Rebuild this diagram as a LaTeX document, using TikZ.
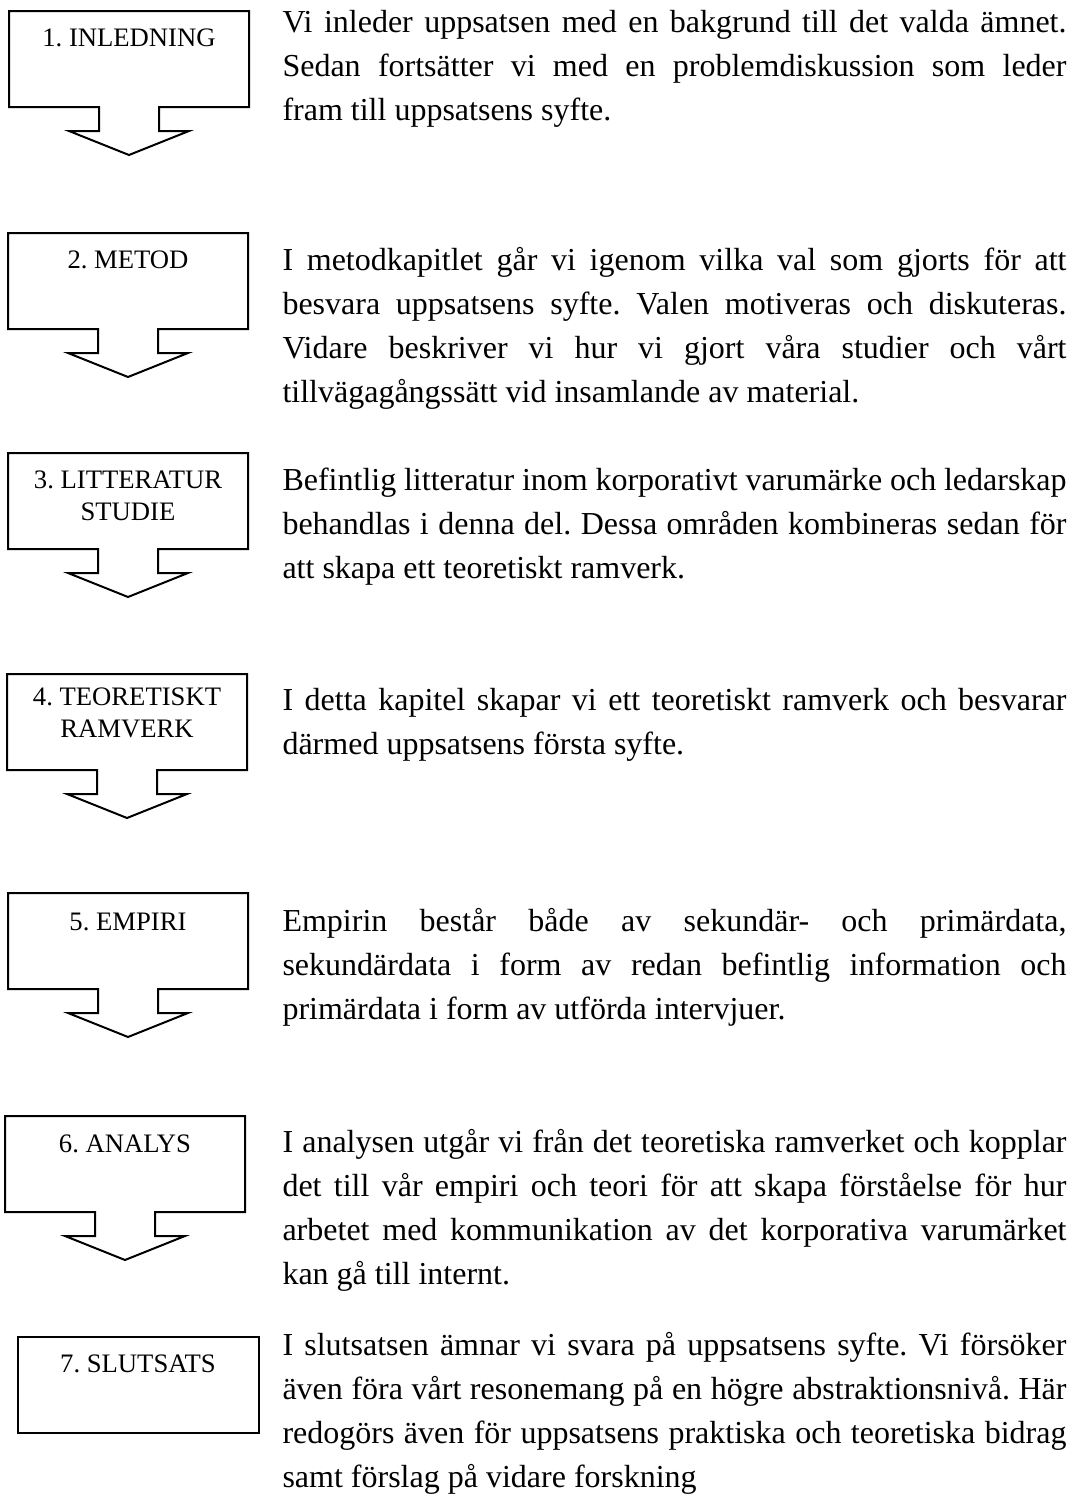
\documentclass[tikz,border=0pt]{standalone}
\usepackage{fontspec}
\setmainfont{Liberation Serif}
\usepackage{tikz}
\frenchspacing

\begin{document}
\begin{tikzpicture}[x=.375pt,y=-.375pt,
    chapbox/.style={draw,line width=.75pt},
    chaplabel/.style={anchor=base,align=center,inner sep=0pt,
      font=\fontsize{10}{12}\selectfont},
    chaptext/.style={anchor=base west,inner sep=0pt,text width=294pt,
      align=justify,font=\fontsize{12}{16.5}\selectfont}]

        \useasboundingbox (0,0) rectangle (1074,1494);

        % boxes with arrows, left x / top y
        \foreach \l/\t in {9/11,8/233,8/453,7/674,8/893,5/1116} {
          \draw[chapbox] (\l,\t) -- ++(240,0) -- ++(0,96) -- ++(-90,0)
            -- ++(0,24) -- ++(30,0) -- ++(-60,24) -- ++(-60,-24)
            -- ++(30,0) -- ++(0,-24) -- ++(-90,0) -- cycle;
        }
        \draw[chapbox] (18,1337) rectangle ++(241,96);

        % base of the last line for two-line labels
        \node[chaplabel] (inledning) at (129,46) {1. INLEDNING};
        \node[chaplabel] (metod) at (128,268) {2. METOD};
        \node[chaplabel] (litteratur) at (128,520) {3. LITTERATUR\\STUDIE};
        \node[chaplabel] (ramverk) at (127,737) {4. TEORETISKT\\RAMVERK};
        \node[chaplabel] (empiri) at (128,930) {5. EMPIRI};
        \node[chaplabel] (analys) at (125,1152) {6. ANALYS};
        \node[chaplabel] (slutsats) at (138,1372) {7. SLUTSATS};

        \node[chaptext] (txtinledning) at (282,32) {Vi inleder uppsatsen med en
          bakgrund till det valda ämnet.\linebreak Sedan fortsätter vi med en
          problemdiskussion som leder\linebreak fram till uppsatsens syfte.};
        \node[chaptext] (txtmetod) at (282,270) {I metodkapitlet går vi igenom
          vilka val som gjorts för att\linebreak besvara uppsatsens syfte. Valen
          motiveras och diskuteras.\linebreak Vidare beskriver vi hur vi gjort
          våra studier och vårt\linebreak tillvägagångssätt vid insamlande av
          material.};
        \node[chaptext] (txtlitteratur) at (282,490) {Befintlig litteratur inom
          korporativt varumärke och ledarskap\linebreak behandlas i denna del.
          Dessa områden kombineras sedan för\linebreak att skapa ett teoretiskt
          ramverk.};
        \node[chaptext] (txtramverk) at (282,710) {I detta kapitel skapar vi ett
          teoretiskt ramverk och besvarar\linebreak därmed uppsatsens första
          syfte.};
        \node[chaptext] (txtempiri) at (282,931) {Empirin består både av
          sekundär- och primärdata,\linebreak sekundärdata i form av redan
          befintlig information och\linebreak primärdata i form av utförda
          intervjuer.};
        \node[chaptext] (txtanalys) at (282,1152) {I analysen utgår vi från det
          teoretiska ramverket och kopplar\linebreak det till vår empiri och
          teori för att skapa förståelse för hur\linebreak arbetet med
          kommunikation av det korporativa varumärket\linebreak kan gå till
          internt.};
        \node[chaptext] (txtslutsats) at (282,1355) {I slutsatsen ämnar vi svara
          på uppsatsens syfte. Vi försöker\linebreak även föra vårt resonemang
          på en högre abstraktionsnivå. Här\linebreak redogörs även för
          uppsatsens praktiska och teoretiska bidrag\linebreak samt förslag på
          vidare forskning};
    \end{tikzpicture}
\end{document}
